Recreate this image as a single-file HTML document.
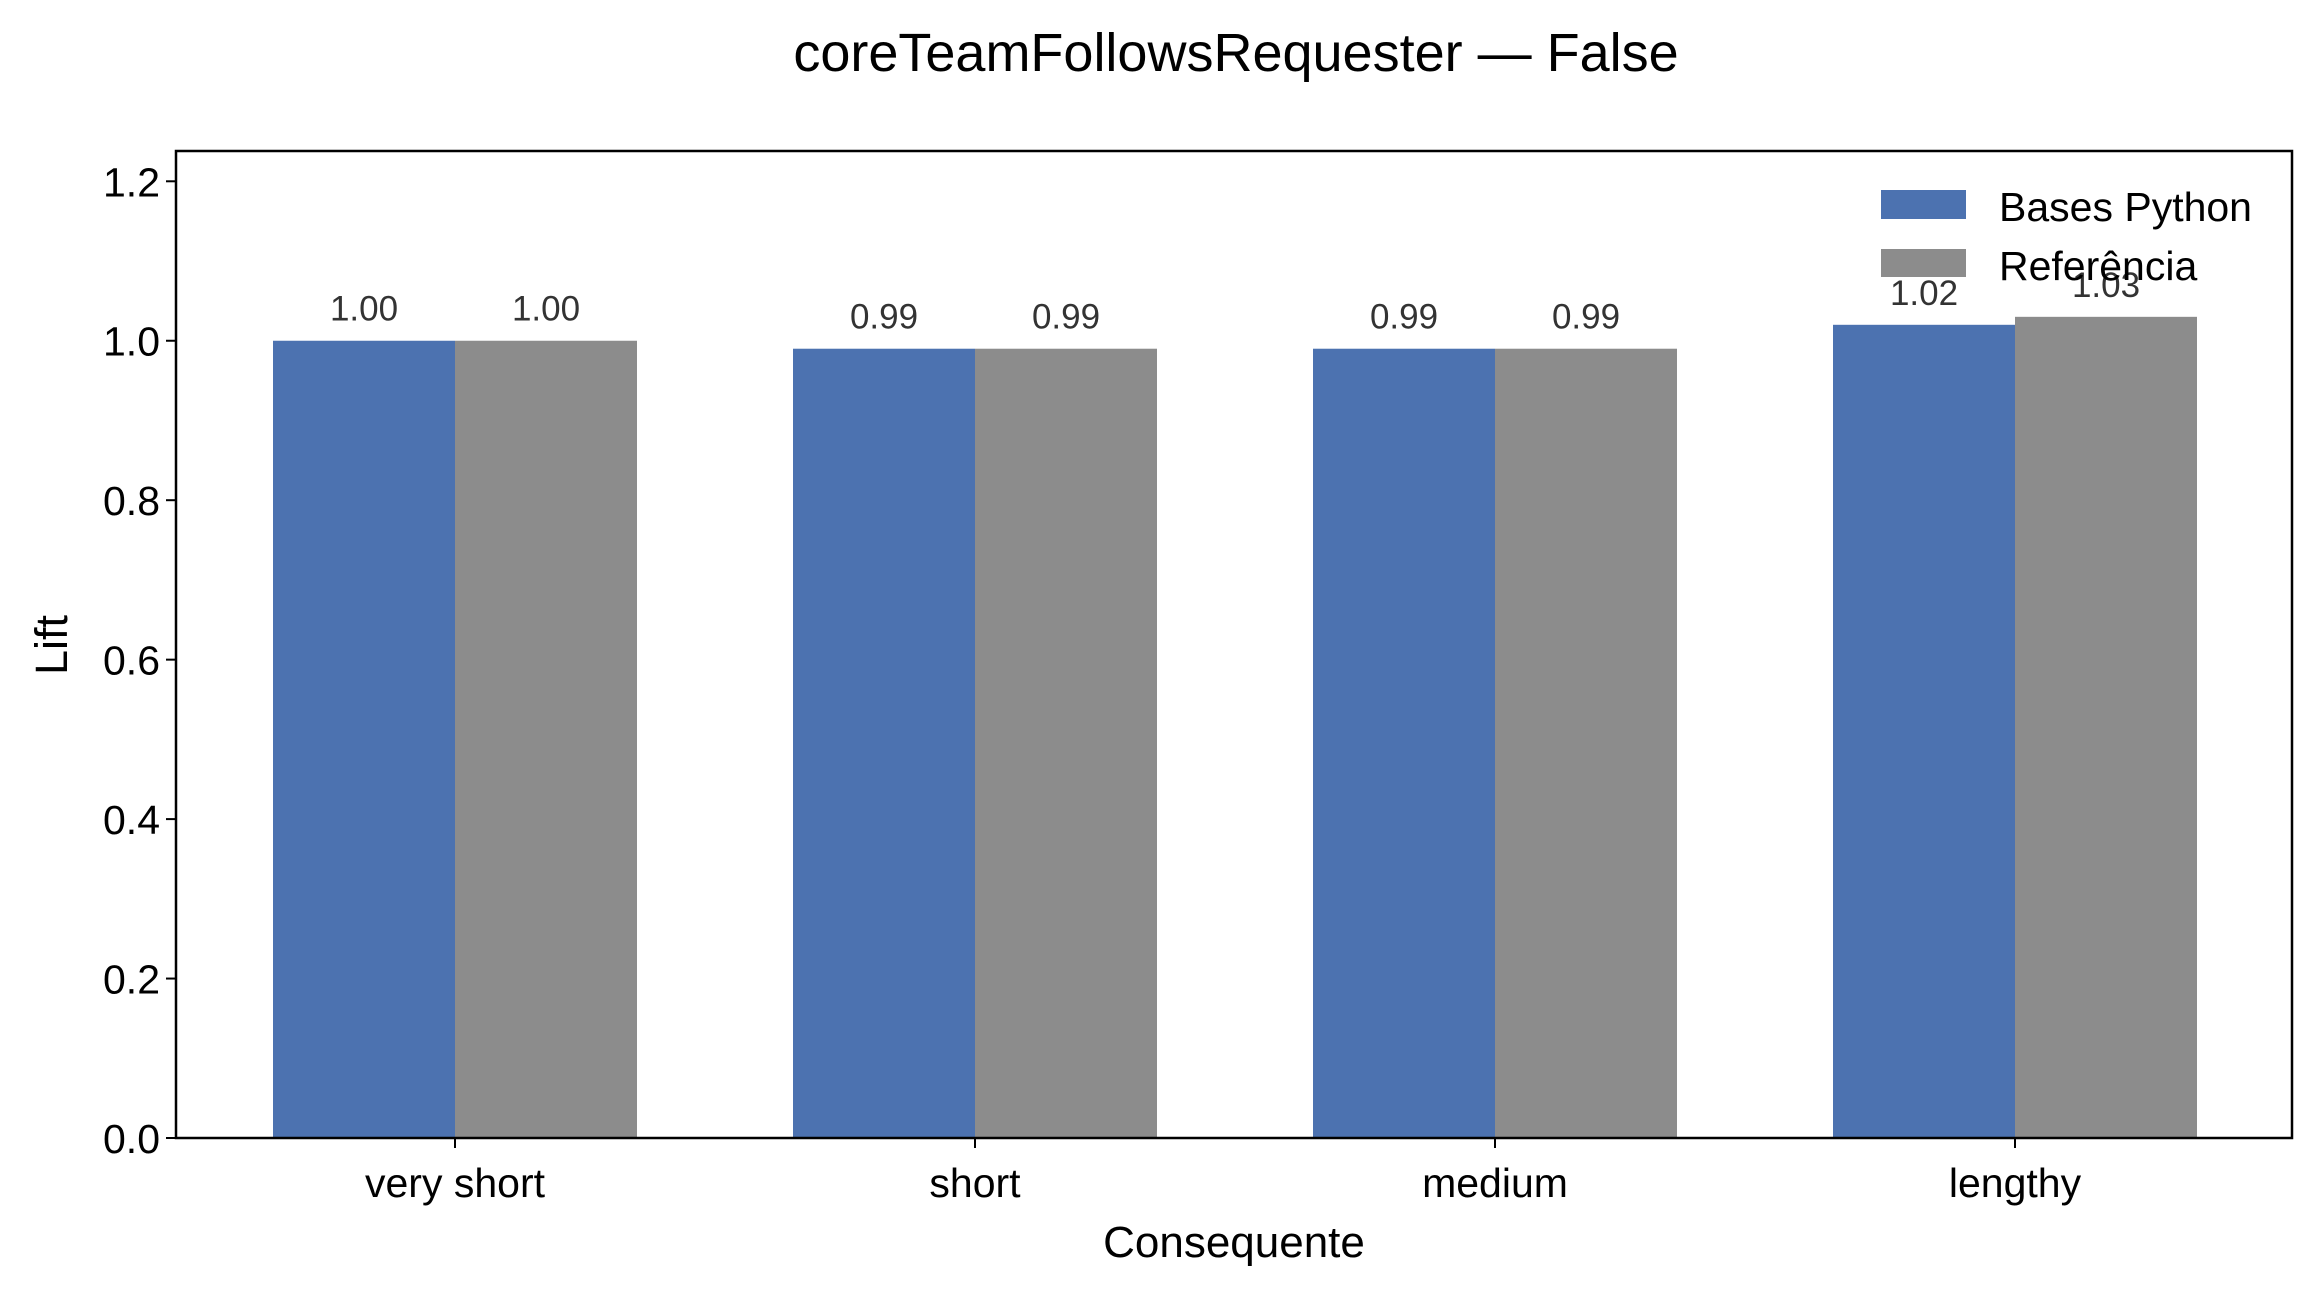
<!DOCTYPE html>
<html><head><meta charset="utf-8"><style>
body{margin:0;background:#fff}
svg{display:block;font-family:"Liberation Sans",Arial,sans-serif}
</style></head><body>
<svg id="chart" width="2323" height="1295" viewBox="0 0 2323 1295">
<text x="1236" y="71" font-size="54" text-anchor="middle">coreTeamFollowsRequester — False</text>
<g id="plot"></g>
<text x="1234" y="1257" font-size="44" text-anchor="middle">Consequente</text>
<text transform="translate(67,645) rotate(-90)" font-size="45" text-anchor="middle">Lift</text>
<g>
<g>
<rect x="1881" y="190" width="85" height="29" fill="#4c72b0"/>
<text x="1999" y="221" font-size="41">Bases Python</text></g>
<g>
<rect x="1881" y="249" width="85" height="28" fill="#8c8c8c"/>
<text x="1999" y="280" font-size="41">Referência</text></g>
</g>
</svg>
<script>
const categories=["very short","short","medium","lengthy"];
const basesPython=[1.00,0.99,0.99,1.02];
const referencia=[1.00,0.99,0.99,1.03];
const yTicks=[0.0,0.2,0.4,0.6,0.8,1.0,1.2];
const L=176,R=2292,T=151,B=1138,yMax=1.238;
const step=520,x0=455,bw=182;
const xs=i=>x0+i*step;
const ys=v=>B-(v/yMax)*(B-T);
const NS="http://www.w3.org/2000/svg";
const g=document.getElementById('plot');
function mk(t,a,txt){const e=document.createElementNS(NS,t);for(const k in a)e.setAttribute(k,a[k]);if(txt!==undefined)e.textContent=txt;g.appendChild(e);return e;}
categories.forEach((c,i)=>{
  [[basesPython,'#4c72b0',-1,'bases-python'],[referencia,'#8c8c8c',0,'referencia']].forEach(([arr,col,off,nm])=>{
    const x=xs(i)+off*bw, y=ys(arr[i]);
    const r=mk('rect',{x:x,y:y,width:bw,height:B-y,fill:col});
    
    
    const t=mk('text',{x:x+bw/2,y:y-20,'font-size':35,'text-anchor':'middle',fill:'#333'},arr[i].toFixed(2));
    
    
  });
  const tk=mk('line',{x1:xs(i),x2:xs(i),y1:B,y2:B+10,stroke:'#000','stroke-width':2});
  
  
  const tl=mk('text',{x:xs(i),y:1197,'font-size':41,'text-anchor':'middle'},c);
  
  
});
yTicks.forEach(v=>{
  const y=ys(v);
  const tk=mk('line',{x1:L-10,x2:L,y1:y,y2:y,stroke:'#000','stroke-width':2});
  
  
  const tl=mk('text',{x:L-16,y:y+15,'font-size':41,'text-anchor':'end'},v.toFixed(1));
  
  
});
const fr=mk('rect',{x:L,y:T,width:R-L,height:B-T,fill:'none',stroke:'#000','stroke-width':2.5});


</script>
</body></html>
